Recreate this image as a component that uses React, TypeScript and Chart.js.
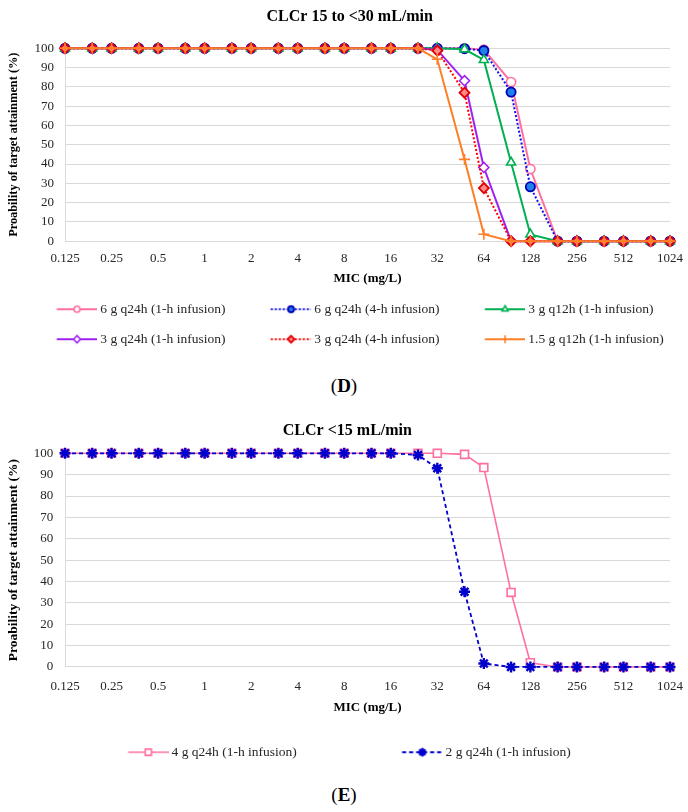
import React, { useEffect, useRef } from 'react';
import { Chart, registerables } from 'chart.js';
import { drawPoint } from 'chart.js/helpers';

Chart.register(...registerables);

const FONT = "'Liberation Serif', 'Times New Roman', serif";

// ---------- data ----------
const MIC_VALUES = [0.125, 0.1875, 0.25, 0.375, 0.5, 0.75, 1, 1.5, 2, 3, 4, 6, 8, 12, 16, 24, 32, 48, 64, 96, 128, 192, 256, 384, 512, 768, 1024];
const MIC_TICKS = [0.125, 0.25, 0.5, 1, 2, 4, 8, 16, 32, 64, 128, 256, 512, 1024];

const X_TITLE = 'MIC (mg/L)';
const Y_TITLE = 'Proability of target attainment (%)';

// Panel D
const TITLE_D = 'CLCr 15 to <30 mL/min';
const LABELS_D = [
  '6 g q24h (1-h infusion)',
  '6 g q24h (4-h infusion)',
  '3 g q12h (1-h infusion)',
  '3 g q24h (1-h infusion)',
  '3 g q24h (4-h infusion)',
  '1.5 g q12h (1-h infusion)',
];
const D_6G_Q24H_1H = [100, 100, 100, 100, 100, 100, 100, 100, 100, 100, 100, 100, 100, 100, 100, 100, 100, 100, 99.3, 82.5, 37.4, 0, 0, 0, 0, 0, 0];
const D_6G_Q24H_4H = [100, 100, 100, 100, 100, 100, 100, 100, 100, 100, 100, 100, 100, 100, 100, 100, 100, 99.8, 98.8, 77.3, 28.2, 0, 0, 0, 0, 0, 0];
const D_3G_Q12H_1H = [100, 100, 100, 100, 100, 100, 100, 100, 100, 100, 100, 100, 100, 100, 100, 100, 100, 99.5, 94.0, 40.8, 3.5, 0, 0, 0, 0, 0, 0];
const D_3G_Q24H_1H = [100, 100, 100, 100, 100, 100, 100, 100, 100, 100, 100, 100, 100, 100, 100, 100, 99.2, 83.2, 38.2, 0, 0, 0, 0, 0, 0, 0, 0];
const D_3G_Q24H_4H = [100, 100, 100, 100, 100, 100, 100, 100, 100, 100, 100, 100, 100, 100, 100, 100, 98.8, 77.0, 27.5, 0, 0, 0, 0, 0, 0, 0, 0];
const D_1_5G_Q12H_1H = [100, 100, 100, 100, 100, 100, 100, 100, 100, 100, 100, 100, 100, 100, 100, 100, 94.3, 42.4, 3.6, 0, 0, 0, 0, 0, 0, 0, 0];

// Panel E
const TITLE_E = 'CLCr <15 mL/min';
const LABELS_E = ['4 g q24h (1-h infusion)', '2 g q24h (1-h infusion)'];
const E_4G_Q24H_1H = [100, 100, 100, 100, 100, 100, 100, 100, 100, 100, 100, 100, 100, 100, 100, 100, 100, 99.5, 93.3, 34.9, 2.0, 0, 0, 0, 0, 0, 0];
const E_2G_Q24H_1H = [100, 100, 100, 100, 100, 100, 100, 100, 100, 100, 100, 100, 100, 100, 100, 99.2, 93.0, 35.2, 1.6, 0, 0, 0, 0, 0, 0, 0, 0];

// ---------- helpers ----------
const SHIFT = 3.5;

function toPoints(values: number[]) {
  return MIC_VALUES.map((x, i) => ({ x, y: values[i] }));
}

function makeIcon(ds: any, boxW: number, m: number) {
  const W = Math.round(boxW + 2 * SHIFT);
  const H = 16;
  const c = document.createElement('canvas');
  c.width = W;
  c.height = H;
  const ctx = c.getContext('2d')!;
  const x0 = m + 2 * SHIFT;
  const x1 = W;
  const cy = H / 2;
  ctx.strokeStyle = ds.borderColor;
  ctx.lineWidth = ds.borderWidth;
  ctx.setLineDash(ds.borderDash || []);
  ctx.beginPath();
  ctx.moveTo(x0, cy);
  ctx.lineTo(x1, cy);
  ctx.stroke();
  ctx.setLineDash([]);
  ctx.fillStyle = ds.pointBackgroundColor;
  ctx.strokeStyle = ds.pointBorderColor;
  ctx.lineWidth = ds.pointBorderWidth;
  drawPoint(ctx, { pointStyle: ds.pointStyle, radius: ds.iconRadius, rotation: 0, borderWidth: ds.pointBorderWidth } as any, (x0 + x1) / 2, cy);
  return c;
}

interface PanelLayout {
  title: string;
  titlePad: { top: number; bottom: number };
  layoutLeft: number;
  layoutRight: number;
  yWidth: number;
  yTitleSize: number;
  yTitlePadTop: number;
  yTickPad: number;
  xTickPad: number;
  xHeight: number;
  xTitlePad: { top: number; bottom: number };
  legendPad: number;
  legendMargin: number;
}

function buildConfig(datasets: any[], L: PanelLayout): any {
  const legendFont = 13.5;
  const boxW = L.legendMargin + 40;
  const icons = datasets.map((ds) => makeIcon(ds, boxW, L.legendMargin));
  const n = datasets.length;
  datasets.forEach((ds, i) => {
    ds.order = n - 1 - i;
  });
  return {
    type: 'line',
    data: { datasets },
    options: {
      animation: false,
      responsive: false,
      maintainAspectRatio: false,
      events: [],
      layout: { padding: { left: L.layoutLeft, right: L.layoutRight, top: 0, bottom: 0 } },
      plugins: {
        tooltip: { enabled: false },
        title: {
          display: true,
          text: L.title,
          color: '#000',
          font: { family: FONT, size: 16, weight: 'bold' },
          padding: L.titlePad,
        },
        legend: {
          position: 'bottom',
          align: 'start',
          labels: {
            usePointStyle: true,
            pointStyleWidth: boxW,
            padding: L.legendPad,
            color: '#262626',
            font: { family: FONT, size: legendFont },
            generateLabels: (chart: any) =>
              chart.data.datasets.map((ds: any, i: number) => ({
                text: ds.label,
                pointStyle: icons[i],
                datasetIndex: i,
                hidden: false,
                lineWidth: 0,
                fillStyle: 'rgba(0,0,0,0)',
                strokeStyle: 'rgba(0,0,0,0)',
                fontColor: '#262626',
              })),
          },
        },
      },
      scales: {
        x: {
          type: 'logarithmic',
          min: MIC_VALUES[0],
          max: MIC_VALUES[MIC_VALUES.length - 1],
          afterBuildTicks: (s: any) => {
            s.ticks = MIC_TICKS.map((v) => ({ value: v }));
          },
          afterFit: (s: any) => {
            s.paddingRight = 18;
            s.height = L.xHeight;
          },
          grid: { display: false, drawTicks: false },
          border: { display: true, color: '#d9d9d9', width: 1 },
          ticks: {
            autoSkip: false,
            maxRotation: 0,
            minRotation: 0,
            padding: L.xTickPad,
            color: '#262626',
            font: { family: FONT, size: 13 },
            callback: (v: any) => String(v),
          },
          title: {
            display: true,
            text: X_TITLE,
            color: '#000',
            font: { family: FONT, size: 13, weight: 'bold' },
            padding: L.xTitlePad,
          },
        },
        y: {
          min: 0,
          max: 100,
          afterFit: (s: any) => {
            s.width = L.yWidth;
          },
          grid: { color: '#d9d9d9', lineWidth: 1, drawTicks: false },
          border: { display: true, color: '#d9d9d9', width: 1 },
          ticks: {
            stepSize: 10,
            autoSkip: false,
            padding: L.yTickPad,
            color: '#262626',
            font: { family: FONT, size: 13 },
          },
          title: {
            display: true,
            text: Y_TITLE,
            color: '#000',
            font: { family: FONT, size: L.yTitleSize, weight: 'bold' },
            padding: { top: L.yTitlePadTop, bottom: 0 },
          },
        },
      },
    },
  };
}

function datasetsD() {
  const common = { tension: 0, fill: false, clip: false, borderWidth: 2 };
  return [
    {
      ...common,
      label: LABELS_D[0],
      data: toPoints(D_6G_Q24H_1H),
      borderColor: '#FF6F9F',
      pointStyle: 'circle',
      pointRadius: 4.6,
      pointBorderWidth: 1.6,
      pointBackgroundColor: '#ffffff',
      pointBorderColor: '#FF6F9F',
      iconRadius: 3,
    },
    {
      ...common,
      label: LABELS_D[1],
      data: toPoints(D_6G_Q24H_4H),
      borderColor: '#1010F0',
      borderDash: [2, 2],
      pointStyle: 'circle',
      pointRadius: 4.6,
      pointBorderWidth: 1.8,
      pointBackgroundColor: '#1E80E8',
      pointBorderColor: '#0000B8',
      iconRadius: 3,
    },
    {
      ...common,
      label: LABELS_D[2],
      data: toPoints(D_3G_Q12H_1H),
      borderColor: '#00B050',
      pointStyle: 'triangle',
      pointRadius: 5.2,
      pointBorderWidth: 1.6,
      pointBackgroundColor: '#ffffff',
      pointBorderColor: '#00B050',
      iconRadius: 3.5,
    },
    {
      ...common,
      label: LABELS_D[3],
      data: toPoints(D_3G_Q24H_1H),
      borderColor: '#A020F0',
      pointStyle: 'rectRot',
      pointRadius: 5,
      pointBorderWidth: 1.6,
      pointBackgroundColor: '#ffffff',
      pointBorderColor: '#A020F0',
      iconRadius: 3.5,
    },
    {
      ...common,
      label: LABELS_D[4],
      data: toPoints(D_3G_Q24H_4H),
      borderColor: '#FF0000',
      borderDash: [2, 2],
      pointStyle: 'rectRot',
      pointRadius: 5,
      pointBorderWidth: 1.8,
      pointBackgroundColor: '#FF8A8A',
      pointBorderColor: '#E00000',
      iconRadius: 3.5,
    },
    {
      ...common,
      label: LABELS_D[5],
      data: toPoints(D_1_5G_Q12H_1H),
      borderColor: '#FF7F27',
      pointStyle: 'cross',
      pointRadius: 5.5,
      pointBorderWidth: 1.6,
      pointBackgroundColor: '#FF7F27',
      pointBorderColor: '#FF7F27',
      iconRadius: 4,
    },
  ];
}

function datasetsE() {
  const common = { tension: 0, fill: false, clip: false };
  return [
    {
      ...common,
      label: LABELS_E[0],
      data: toPoints(E_4G_Q24H_1H),
      borderColor: '#FF6F9F',
      borderWidth: 1.6,
      pointStyle: 'rect',
      pointRadius: 5.6,
      pointBorderWidth: 1.6,
      pointBackgroundColor: '#ffffff',
      pointBorderColor: '#FF6F9F',
      iconRadius: 4.4,
    },
    {
      ...common,
      label: LABELS_E[1],
      data: toPoints(E_2G_Q24H_1H),
      borderColor: '#0000CC',
      borderWidth: 1.8,
      borderDash: [4, 3],
      pointStyle: 'star',
      pointRadius: 5.5,
      pointBorderWidth: 2.4,
      pointBackgroundColor: '#0000CC',
      pointBorderColor: '#0000CC',
      iconRadius: 4.2,
    },
  ];
}

const LAYOUT_D: PanelLayout = {
  title: TITLE_D,
  titlePad: { top: 7.1, bottom: 22 },
  layoutLeft: 11.45,
  layoutRight: 0,
  yWidth: 53.55,
  yTitleSize: 12.3,
  yTitlePadTop: -5.5,
  yTickPad: 11,
  xTickPad: 9.3,
  xHeight: 44.85,
  xTitlePad: { top: 4.35, bottom: 0 },
  legendPad: 16.5,
  legendMargin: 25.55,
};

const LAYOUT_E: PanelLayout = {
  title: TITLE_E,
  titlePad: { top: 5.1, bottom: 13 },
  layoutLeft: 22.75,
  layoutRight: 16,
  yWidth: 42.25,
  yTitleSize: 13.5,
  yTitlePadTop: -17.55,
  yTickPad: 11.7,
  xTickPad: 11.5,
  xHeight: 48.1,
  xTitlePad: { top: 5.4, bottom: 0 },
  legendPad: 30.45,
  legendMargin: 71.6,
};

function Panel({ top, height, make }: { top: number; height: number; make: () => any }) {
  const ref = useRef<HTMLCanvasElement>(null);
  useEffect(() => {
    const chart = new Chart(ref.current as HTMLCanvasElement, make());
    return () => chart.destroy();
  }, []);
  return (
    <div style={{ position: 'absolute', left: 0, top, width: 688, height }}>
      <canvas ref={ref} width={688} height={height} style={{ display: 'block', width: 688, height }} />
    </div>
  );
}

const captionStyle = (top: number, h: number): React.CSSProperties => ({
  position: 'absolute',
  left: 0,
  top,
  width: 688,
  height: h,
  lineHeight: `${h}px`,
  textAlign: 'center',
  fontFamily: FONT,
  fontSize: 19,
  color: '#000',
});

export default function App() {
  return (
    <div style={{ position: 'absolute', left: 0, top: 0, width: 688, height: 812, background: '#fff', overflow: 'hidden' }}>
      <Panel top={0} height={356} make={() => buildConfig(datasetsD(), LAYOUT_D)} />
      <div style={captionStyle(356, 60)}>
        (<b>D</b>)
      </div>
      <Panel top={416} height={353} make={() => buildConfig(datasetsE(), LAYOUT_E)} />
      <div style={captionStyle(778, 34)}>
        (<b>E</b>)
      </div>
    </div>
  );
}
